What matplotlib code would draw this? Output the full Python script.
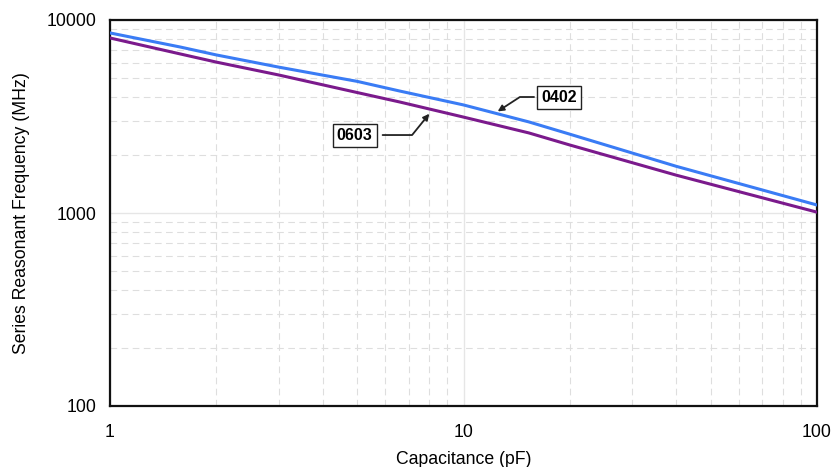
import matplotlib
matplotlib.use("Agg")
import matplotlib.pyplot as plt
from matplotlib.ticker import FixedLocator, NullFormatter

plt.rcParams['font.family'] = ['Liberation Sans', 'DejaVu Sans']

cap = [1, 1.58, 2, 3, 5, 6.6, 10, 15.3, 20, 40, 100]
srf_0402 = [8570, 7245, 6590, 5700, 4810, 4285, 3630, 2965, 2560, 1745, 1100]
srf_0603 = [8070, 6670, 6050, 5190, 4210, 3760, 3140, 2600, 2250, 1570, 1010]

xticks = [1, 10, 100]
xticklabels = ["1", "10", "100"]
yticks = [100, 1000, 10000]
yticklabels = ["100", "1000", "10000"]

fig = plt.figure(figsize=(8.33, 4.67), dpi=100)
ax = fig.add_axes([110/833, 1-406/467, (817-110)/833, (406-20)/467])

ax.plot(cap, srf_0402, color='#3a7cf5', lw=2.2, zorder=3)
ax.plot(cap, srf_0603, color='#7b1a8c', lw=2.2, zorder=3)

ax.set_xscale('log')
ax.set_yscale('log')
ax.set_xlim(1, 100)
ax.set_ylim(100, 10000)

ax.xaxis.set_major_locator(FixedLocator(xticks))
ax.set_xticklabels(xticklabels)
ax.yaxis.set_major_locator(FixedLocator(yticks))
ax.set_yticklabels(yticklabels)
ax.xaxis.set_minor_formatter(NullFormatter())
ax.yaxis.set_minor_formatter(NullFormatter())

ax.grid(True, which='major', color='#e6e6e6', lw=1.0, ls='-')
ax.grid(True, which='minor', color='#dedede', lw=0.8, ls=(0, (6, 4)))
ax.tick_params(which='both', length=0)
ax.tick_params(axis='x', pad=13, labelsize=12.7)
ax.tick_params(axis='y', pad=10, labelsize=12.7)

for s in ax.spines.values():
    s.set_color('#111111')
    s.set_linewidth(1.6)

ax.set_xlabel("Capacitance (pF)", fontsize=12.7, labelpad=7)
ax.set_ylabel("Series Reasonant Frequency (MHz)", fontsize=12.7, labelpad=12)

bbox = dict(boxstyle='square,pad=0.25', fc='white', ec='#222222', lw=1.0)
ax.annotate("0402", xy=(12.4, 3330), xytext=(16.6, 3990), fontsize=11.5,
            fontweight='bold', ha='left', va='center', bbox=bbox,
            arrowprops=dict(arrowstyle='-|>', color='#222222', lw=1.3,
                            connectionstyle='angle,angleA=0,angleB=33,rad=0',
                            shrinkA=2, shrinkB=1, mutation_scale=9))
ax.annotate("0603", xy=(8.05, 3310), xytext=(5.53, 2535), fontsize=11.5,
            fontweight='bold', ha='right', va='center', bbox=bbox,
            arrowprops=dict(arrowstyle='-|>', color='#222222', lw=1.3,
                            connectionstyle='angle,angleA=0,angleB=51,rad=0',
                            shrinkA=4, shrinkB=1, mutation_scale=9))

fig.savefig("out.png", dpi=100)
